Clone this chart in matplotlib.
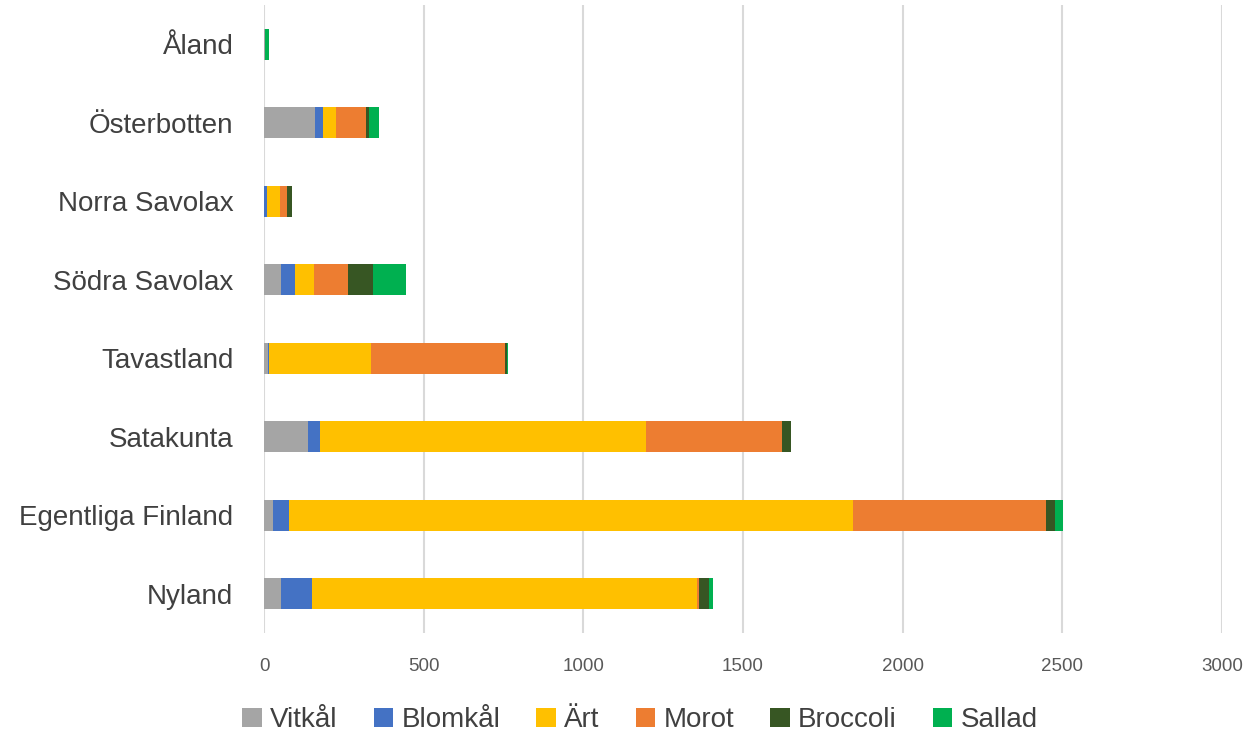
import numpy as np
import matplotlib
matplotlib.use('Agg')
from matplotlib import pyplot as plt

regions = ['Nyland', 'Egentliga Finland', 'Satakunta', 'Tavastland',
           'Södra Savolax', 'Norra Savolax', 'Österbotten', 'Åland']
crops = ['Vitkål', 'Blomkål', 'Ärt', 'Morot', 'Broccoli', 'Sallad']
colors = ['#a5a5a5', '#4472c4', '#ffc000', '#ed7d31', '#375623', '#00b050']

vitkal = [54, 28, 138, 12, 54, 0, 160, 2]
blomkal = [96, 49, 38, 4, 42, 10, 25, 0]
art = [1205, 1767, 1019, 320, 61, 39, 40, 0]
morot = [8, 604, 427, 419, 106, 22, 94, 0]
broccoli = [29, 29, 28, 6, 79, 18, 11, 0]
sallad = [14, 25, 0, 4, 104, 0, 31, 15]

series = [vitkal, blomkal, art, morot, broccoli, sallad]

plt.rcParams['font.family'] = ['Liberation Sans', 'DejaVu Sans']

fig = plt.figure(figsize=(12.49, 7.36), dpi=100)
ax = fig.add_axes([264 / 1249, 103 / 736, 958 / 1249, 628 / 736])

y = np.arange(len(regions))
left = np.zeros(len(regions))
for name, vals, c in zip(crops, series, colors):
    ax.barh(y, vals, left=left, height=0.4, color=c, label=name, zorder=3)
    left += np.array(vals)

ax.set_xlim(0, 3000)
ax.set_ylim(-0.5, len(regions) - 0.5)
ax.set_xticks(np.arange(0, 3001, 500))
ax.set_yticks(y)
ax.set_yticklabels(regions, fontsize=20, color='#404040')
ax.tick_params(axis='x', labelsize=13.5, colors='#595959', length=0, pad=18)
ax.tick_params(axis='y', length=0, pad=22)
ax.grid(axis='x', color='#d9d9d9', linewidth=1.5, zorder=0)
for s in ax.spines.values():
    s.set_visible(False)

fig.legend(loc='center', bbox_to_anchor=(640 / 1249, 1 - 720 / 736), ncol=6,
           frameon=False, fontsize=20, handlelength=0.7, handleheight=0.7,
           handletextpad=0.3, columnspacing=1.3, labelcolor='#404040')

fig.savefig('out.png', dpi=100)
